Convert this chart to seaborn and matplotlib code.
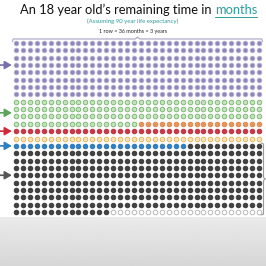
import numpy as np
import pandas as pd
import matplotlib
matplotlib.use("Agg")
import matplotlib.pyplot as plt
import seaborn as sns

# ---- data ----
segments = ["purple", "green", "orange", "red", "yellow", "blue", "dark", "empty"]
counts = [288, 126, 18, 36, 36, 25, 313, 22]
fills = ["#8e86bc", "#c4e2bc", "#e8955c", "#cf3545", "#f6e2b4", "#2f80c4", "#424242", "#ffffff"]
edges = ["#b9b3d4", "#6fae66", "#d77f45", "#b42a38", "#e0ac4c", "#2570b0", "#333333", "#a8a8a8"]
arrow_rows = [3, 9.5, 12, 14, 18]
arrow_colors = ["#7a6fae", "#5aa55a", "#cf2a35", "#2f7fc0", "#555555"]
n_cols = 36
title_main = "An 18 year old\u2019s remaining time in "
title_hl = "months"
subtitle = "(Assuming 90 year life expectancy)"
row_note = "1 row = 36 months = 3 years"

# build dot table
cat = np.repeat(segments, counts)
idx = np.arange(len(cat))
df = pd.DataFrame({"col": idx % n_cols, "row": idx // n_cols, "seg": cat})

sns.set_theme(style="white")
plt.rcParams["font.family"] = ["Lato", "DejaVu Sans"]

W = H = 266
fig = plt.figure(figsize=(2.66, 2.66), dpi=100)
fig.patch.set_facecolor("#ffffff")

# gray gradient background below the dots
yy = np.arange(H, dtype=float)
val = np.where(yy < 217, 1.0, 0.92 - (yy - 217) / (H - 217) * 0.08)
bg = fig.add_axes([0, 0, 1, 1], zorder=-5)
bg.imshow(np.tile(val[:, None], (1, 2)), cmap="gray", vmin=0, vmax=1,
          aspect="auto", extent=[0, 1, 0, 1], origin="upper", interpolation="bilinear")
bg.set_xlim(0, 1)
bg.set_ylim(0, 1)
bg.axis("off")

# dots axes: col 0 at x=16, col 35 at x=259; row 0 at y=43, row 23 at y=212
dx = (259 - 16) / 35
dy = (212 - 43) / 23
left = 16 - dx / 2
top = 43 - dy / 2
ax = fig.add_axes([left / W, 1 - (top + dy * 24) / H, dx * 36 / W, dy * 24 / H])
ax.set_facecolor("white")
for s, f, e in zip(segments, fills, edges):
    sub = df[df["seg"] == s]
    sns.scatterplot(data=sub, x="col", y="row", ax=ax, color=f, edgecolor=e,
                    linewidth=0.55, s=11.5, legend=False, zorder=3)
ax.set_xlim(-0.5, 35.5)
ax.set_ylim(23.5, -0.5)
ax.axis("off")

# arrows on the left
for r, c in zip(arrow_rows, arrow_colors):
    ax.annotate("", xy=(-0.6, r), xytext=(-2.3, r), annotation_clip=False,
                arrowprops=dict(arrowstyle="-|>,head_length=0.35,head_width=0.2",
                                color=c, lw=1.2, shrinkA=0, shrinkB=0))

# top brace
bx = [-0.5, -0.4, 17.2, 17.5, 17.8, 35.4, 35.5]
by = [-0.2, -0.55, -0.55, -0.8, -0.55, -0.55, -0.2]
ax.plot(bx, by, color="#a9a3c4", lw=0.8, clip_on=False)
# right bracket for the dark region
rx = [35.3, 35.65, 35.65, 35.9, 35.65, 35.65, 35.3]
ry = [13.6, 13.75, 18.3, 18.5, 18.7, 23.3, 23.4]
ax.plot(rx, ry, color="#9a9a9a", lw=0.8, clip_on=False)

fig.canvas.draw()
r = fig.canvas.get_renderer()


def fit_size(text, width_px, base=10.0):
    t = fig.text(0, 0, text, fontsize=base, alpha=0)
    w = t.get_window_extent(r).width
    t.remove()
    return base * width_px / w


# title, fitted to the reference width (x 20..257)
fs = fit_size(title_main + title_hl, 237)
ty = 1 - 10 / H
tm = fig.text(20 / W, ty, title_main, ha="left", va="center", fontsize=fs, color="#111111")
bbm = tm.get_window_extent(r)
th = fig.text(bbm.x1 / W, ty, title_hl, ha="left", va="center", fontsize=fs, color="#2a9d9c")
bbh = th.get_window_extent(r)
fig.add_artist(plt.Line2D([bbh.x0 / W, bbh.x1 / W], [1 - 16.5 / H, 1 - 16.5 / H],
                          color="#2a9d9c", lw=0.7))

fs2 = fit_size(subtitle, 92)
fig.text(0.5, 1 - 21.5 / H, subtitle, ha="center", va="center", fontsize=fs2,
         color="#2a9d9c")
fs3 = fit_size(row_note, 68)
fig.text(0.5, 1 - 31 / H, row_note, ha="center", va="center", fontsize=fs3,
         color="#222222")

fig.savefig("out.png", dpi=100)
